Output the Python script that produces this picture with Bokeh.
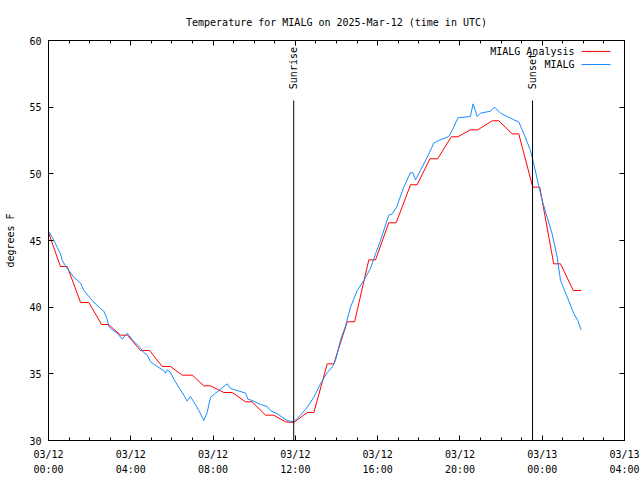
from math import pi
from bokeh.plotting import figure
from bokeh.models import FixedTicker, LinearAxis
from bokeh.core.properties import value
from bokeh.embed import file_html
from bokeh.resources import INLINE

FONT = "DejaVu Sans Mono"

title_text = "Temperature for MIALG on 2025-Mar-12 (time in UTC)"
y_axis_label = "degrees F"
x_tick_hours = [0, 4, 8, 12, 16, 20, 24, 28]
x_minor_hours = list(range(0, 29))
x_tick_labels = ["03/12\n00:00", "03/12\n04:00", "03/12\n08:00", "03/12\n12:00",
                 "03/12\n16:00", "03/12\n20:00", "03/13\n00:00", "03/13\n04:00"]
y_ticks = [30, 35, 40, 45, 50, 55, 60]

series_names = ["MIALG Analysis", "MIALG"]
series_colors = ["#ff0000", "#1a8cff"]

# hours since 2025-03-12 00:00 UTC
analysis_hours = [0.00, 0.58, 0.91, 1.56, 1.96, 2.58, 2.92, 3.50, 3.84, 4.47,
                  4.91, 5.53, 5.93, 6.50, 6.99, 7.55, 7.88, 8.52, 8.93, 9.58,
                  9.90, 10.55, 10.95, 11.52, 11.92, 12.58, 12.90, 13.55, 13.87, 14.52,
                  14.88, 15.57, 15.90, 16.54, 16.90, 17.60, 17.92, 18.54, 18.92, 19.58,
                  19.90, 20.51, 20.87, 21.57, 21.89, 22.54, 22.86, 23.54, 23.88, 24.56,
                  24.89, 25.51, 25.89]
analysis_temps = [45.6, 43.05, 43.05, 40.35, 40.35, 38.7, 38.7, 37.9, 37.9, 36.75,
                  36.75, 35.55, 35.55, 34.9, 34.9, 34.1, 34.1, 33.6, 33.6, 32.9,
                  32.9, 31.9, 31.9, 31.4, 31.35, 32.1, 32.1, 35.75, 35.75, 38.9,
                  38.9, 43.55, 43.55, 46.33, 46.33, 49.18, 49.18, 51.13, 51.13, 52.78,
                  52.78, 53.3, 53.3, 53.98, 53.98, 53.0, 53.0, 49.0, 49.0, 43.25,
                  43.25, 41.25, 41.25]

obs_hours = [0.00, 0.18, 0.42, 0.58, 0.67, 0.83, 0.99, 1.23, 1.56, 1.72,
             1.96, 2.28, 2.53, 2.69, 2.85, 2.93, 3.10, 3.34, 3.58, 3.83,
             4.07, 4.47, 4.63, 4.80, 4.96, 5.28, 5.60, 5.69, 5.77, 5.93,
             6.09, 6.33, 6.58, 6.74, 6.90, 7.06, 7.31, 7.55, 7.71, 7.88,
             8.04, 8.28, 8.69, 8.85, 9.17, 9.58, 9.69, 9.90, 10.31, 10.63,
             10.79, 11.12, 11.60, 11.92, 12.25, 12.58, 12.90, 13.22, 13.55, 13.79,
             13.95, 14.19, 14.44, 14.68, 15.01, 15.33, 15.65, 15.90, 16.14, 16.54,
             16.71, 16.92, 17.27, 17.60, 17.73, 17.84, 18.08, 18.41, 18.73, 18.97,
             19.46, 19.70, 19.90, 20.51, 20.64, 20.84, 21.00, 21.49, 21.68, 21.97,
             22.62, 22.86, 23.11, 23.43, 23.59, 23.83, 24.00, 24.24, 24.48, 24.73,
             24.89, 25.22, 25.54, 25.73, 25.89]
obs_temps = [45.7, 45.25, 44.5, 44.0, 43.5, 43.1, 42.75, 42.25, 41.8, 41.25,
             40.8, 40.25, 39.9, 39.7, 39.1, 38.55, 38.3, 38.05, 37.6, 38.05,
             37.55, 36.95, 36.6, 36.4, 35.9, 35.55, 35.25, 35.05, 35.3, 35.1,
             34.6, 34.0, 33.4, 32.95, 33.3, 32.9, 32.25, 31.5, 32.1, 33.25,
             33.45, 33.75, 34.25, 33.9, 33.75, 33.55, 33.1, 33.0, 32.7, 32.55,
             32.25, 32.0, 31.5, 31.4, 31.9, 32.5, 33.25, 34.25, 35.1, 35.5,
             36.0, 37.5, 38.6, 40.0, 41.25, 42.0, 42.9, 44.0, 45.0, 46.9,
             47.0, 47.5, 49.0, 50.1, 50.05, 49.55, 50.25, 51.25, 52.3, 52.5,
             52.8, 53.5, 54.2, 54.3, 55.25, 54.3, 54.55, 54.7, 55.0, 54.55,
             54.05, 53.9, 53.0, 51.75, 50.75, 49.1, 48.0, 46.75, 45.5, 43.75,
             42.0, 40.75, 39.5, 39.0, 38.3]

sun_event_hours = [11.92, 23.53]
sun_event_names = ["Sunrise", "Sunset"]
sun_line_bottom = 30
sun_line_top = 55.5

x_min, x_max = 0, 28
y_min, y_max = 30, 60

p = figure(frame_width=576, frame_height=400,
           min_border_left=48, min_border_right=16,
           min_border_top=40, min_border_bottom=40,
           x_range=(x_min, x_max), y_range=(y_min, y_max),
           output_backend="svg", toolbar_location=None,
           x_axis_location=None, y_axis_location=None)
p.background_fill_color = "white"
p.border_fill_color = "white"
p.outline_line_color = "black"
p.outline_line_width = 1
p.xgrid.visible = False
p.ygrid.visible = False

p.title.text = title_text
p.title.align = "center"
p.title.text_font = FONT
p.title.text_font_size = "10px"
p.title.text_font_style = "normal"
p.title.text_color = "black"
p.title.standoff = 26
p.title.offset = -4


def style_axis(ax, labels=True, minor=True):
    ax.axis_line_color = "black"
    ax.major_tick_line_color = "black"
    ax.minor_tick_line_color = "black" if minor else None
    ax.major_tick_in = 5
    ax.major_tick_out = 0
    ax.minor_tick_in = 3
    ax.minor_tick_out = 0
    ax.major_label_text_font = FONT
    ax.major_label_text_color = "black"
    ax.major_label_text_font_size = "10px"
    if not labels:
        ax.major_label_text_color = None
        ax.major_label_text_font_size = "1px"
        ax.major_label_standoff = 0


xb = LinearAxis(ticker=FixedTicker(ticks=x_tick_hours, minor_ticks=x_minor_hours))
style_axis(xb)
xb.major_label_overrides = dict(zip(x_tick_hours, x_tick_labels))
xb.major_label_standoff = 8
xb.major_label_text_line_height = 1.4
p.add_layout(xb, "below")

xt = LinearAxis(ticker=FixedTicker(ticks=x_tick_hours, minor_ticks=x_minor_hours))
style_axis(xt, labels=False)
p.add_layout(xt, "above")

yl = LinearAxis(ticker=FixedTicker(ticks=y_ticks, minor_ticks=[]), axis_label=y_axis_label)
style_axis(yl, minor=False)
yl.major_label_standoff = 7
yl.axis_label_text_font = FONT
yl.axis_label_text_font_size = "10px"
yl.axis_label_text_font_style = "normal"
yl.axis_label_text_color = "black"
yl.axis_label_standoff = 10
p.add_layout(yl, "left")

yr = LinearAxis(ticker=FixedTicker(ticks=y_ticks, minor_ticks=[]))
style_axis(yr, labels=False, minor=False)
p.add_layout(yr, "right")

# data lines
p.line(analysis_hours, analysis_temps, line_color=series_colors[0], line_width=1)
p.line(obs_hours, obs_temps, line_color=series_colors[1], line_width=1)

# sunrise / sunset markers
p.segment(x0=sun_event_hours, y0=[sun_line_bottom] * 2,
          x1=sun_event_hours, y1=[sun_line_top] * 2,
          line_color="black", line_width=1)
p.text(x=sun_event_hours, y=[sun_line_top + 0.85] * 2, text=sun_event_names,
       angle=pi / 2, text_align="left", text_baseline="middle",
       text_font=value(FONT), text_font_size="10px", text_color="black")

# legend (gnuplot style: label then sample on the right)
leg_text_x = 25.57
leg_rows_y = [59.18, 58.2]
leg_x0, leg_x1 = 25.91, 27.32
p.text(x=[leg_text_x] * 2, y=leg_rows_y, text=series_names,
       text_align="right", text_baseline="middle",
       text_font=value(FONT), text_font_size="10px", text_color="black")
for yy, col in zip(leg_rows_y, series_colors):
    p.segment(x0=[leg_x0], y0=[yy], x1=[leg_x1], y1=[yy], line_color=col, line_width=1)

open("out.html", "w").write(file_html(p, INLINE))
